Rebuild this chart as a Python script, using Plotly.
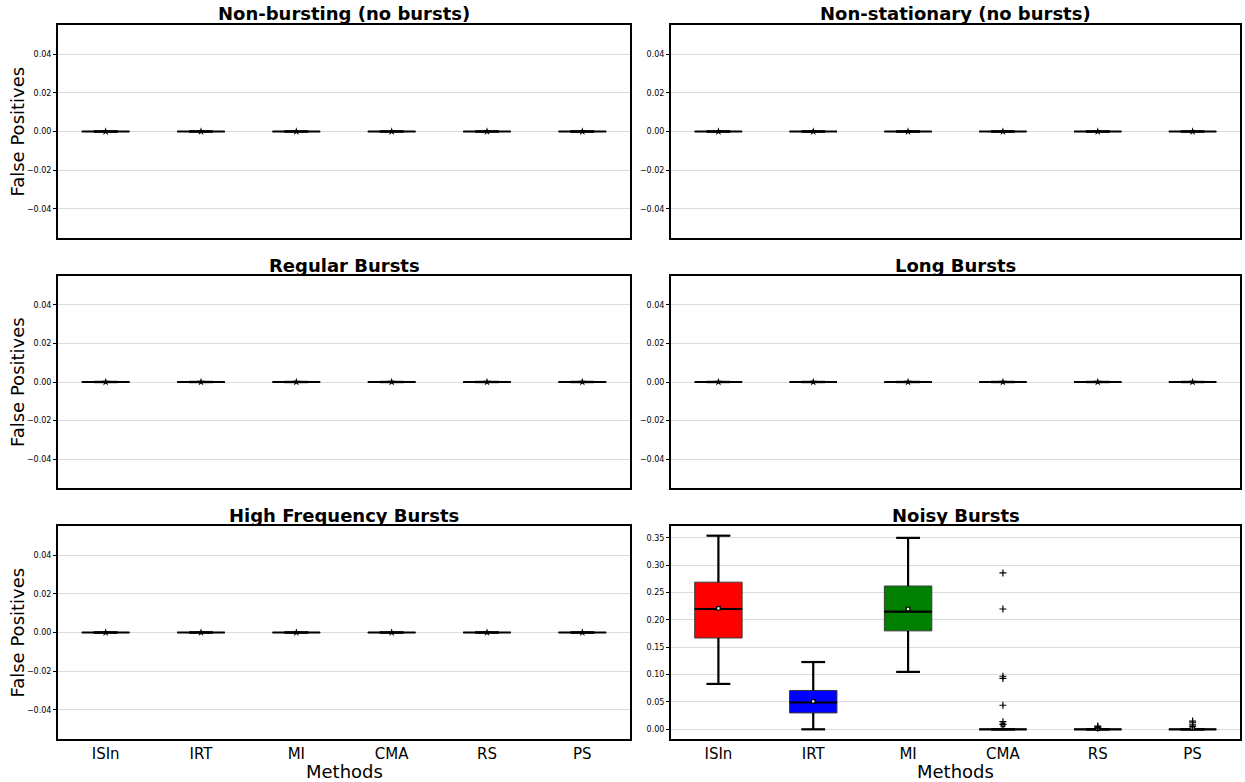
import plotly.graph_objects as go

# ---- data -----------------------------------------------------------------
methods = ["ISIn", "IRT", "MI", "CMA", "RS", "PS"]
positions = [1, 2, 3, 4, 5, 6]

panel_titles = [
    "Non-bursting (no bursts)",
    "Non-stationary (no bursts)",
    "Regular Bursts",
    "Long Bursts",
    "High Frequency Bursts",
    "Noisy Bursts",
]

# panels without any false positives: every statistic is zero
zero_stats = [0.0, 0.0, 0.0, 0.0, 0.0, 0.0]

# Noisy Bursts summary statistics per method
noisy_lower = [0.083, 0.000, 0.105, 0.0, 0.0, 0.0]
noisy_q1 = [0.167, 0.030, 0.180, 0.0, 0.0, 0.0]
noisy_median = [0.220, 0.049, 0.215, 0.0, 0.0, 0.0]
noisy_q3 = [0.269, 0.071, 0.262, 0.0, 0.0, 0.0]
noisy_upper = [0.354, 0.123, 0.350, 0.0, 0.0, 0.0]
noisy_mean = [0.221, 0.051, 0.220, 0.008, 0.001, 0.002]

# Noisy Bursts outliers
cma_outliers = [0.286, 0.220, 0.097, 0.093, 0.044, 0.014, 0.009]
rs_outliers = [0.006, 0.004, 0.002]
ps_outliers = [0.015, 0.012, 0.008, 0.005]

box_colors = ["red", "blue", "green", "orange", "purple", "cyan"]

# ---- layout geometry (pixels) ----------------------------------------------
W, H = 1245, 782
FONT = "DejaVu Sans"


def px_x(v):
    return v / W


def px_y(v):
    return 1 - v / H


col_x = [(58, 630), (671, 1240)]
row_y = [(25, 238), (276, 488), (526, 739)]

fig = go.Figure()
layout = dict(
    width=W,
    height=H,
    margin=dict(l=0, r=0, t=0, b=0),
    paper_bgcolor="white",
    plot_bgcolor="white",
    showlegend=False,
    font=dict(family=FONT, color="black"),
)
annotations = []

for k, title in enumerate(panel_titles):
    row, col = divmod(k, 2)
    noisy = title == "Noisy Bursts"
    x0, x1 = col_x[col]
    y0, y1 = row_y[row]
    idx = "" if k == 0 else str(k + 1)
    xa, ya = "x" + idx, "y" + idx

    if noisy:
        lower, q1, med, q3, upper, mean = (noisy_lower, noisy_q1, noisy_median,
                                           noisy_q3, noisy_upper, noisy_mean)
    else:
        lower = q1 = med = q3 = upper = mean = zero_stats

    # box bodies
    for i, m in enumerate(methods):
        fig.add_trace(go.Box(
            x=[positions[i]], q1=[q1[i]], median=[med[i]], q3=[q3[i]],
            lowerfence=[lower[i]], upperfence=[upper[i]],
            width=0.5, whiskerwidth=0.5, boxpoints=False,
            fillcolor=box_colors[i] if noisy else "white",
            line=dict(color="#3a3a3a", width=1),
            name=m, xaxis=xa, yaxis=ya, hoverinfo="skip",
        ))

    # whiskers, caps and medians drawn heavier on top of the boxes
    wx, wy = [], []
    for i in range(len(methods)):
        p = positions[i]
        wx += [p, p, None, p, p, None]
        wy += [q3[i], upper[i], None, q1[i], lower[i], None]
        wx += [p - 0.125, p + 0.125, None, p - 0.125, p + 0.125, None]
        wy += [upper[i], upper[i], None, lower[i], lower[i], None]
        wx += [p - 0.25, p + 0.25, None]
        wy += [med[i], med[i], None]
    fig.add_trace(go.Scatter(
        x=wx, y=wy, mode="lines", line=dict(color="black", width=2.2),
        xaxis=xa, yaxis=ya, hoverinfo="skip",
    ))

    # means and outliers
    if noisy:
        fig.add_trace(go.Scatter(
            x=positions, y=mean, mode="markers",
            marker=dict(symbol="square", size=3.5, color="white",
                        line=dict(color="black", width=1.2)),
            xaxis=xa, yaxis=ya, hoverinfo="skip",
        ))
        ox = [4] * len(cma_outliers) + [5] * len(rs_outliers) + [6] * len(ps_outliers)
        oy = cma_outliers + rs_outliers + ps_outliers
        fig.add_trace(go.Scatter(
            x=ox, y=oy, mode="markers",
            marker=dict(symbol="cross-thin", size=5,
                        line=dict(color="black", width=1.2)),
            xaxis=xa, yaxis=ya, hoverinfo="skip",
        ))
    else:
        fig.add_trace(go.Scatter(
            x=positions, y=mean, mode="markers",
            marker=dict(symbol="star", size=6, color="black"),
            xaxis=xa, yaxis=ya, hoverinfo="skip",
        ))

    # axes
    bottom = row == 2
    layout["xaxis" + idx] = dict(
        domain=[px_x(x0), px_x(x1)], anchor=ya, range=[0.5, 6.5],
        tickvals=positions, ticktext=methods, showticklabels=bottom,
        tickfont=dict(size=15, family=FONT), ticks="", showgrid=False,
        zeroline=False, showline=True, mirror=True, linecolor="black",
        linewidth=2,
    )
    if noisy:
        lo = min(noisy_lower)
        hi = max(noisy_upper)
        span = hi - lo
        yr = [lo - 0.05 * span, hi + 0.05 * span]
        tv = [0.0, 0.05, 0.10, 0.15, 0.20, 0.25, 0.30, 0.35]
        tt = ["%.2f" % v for v in tv]
    else:
        yr = [-0.055, 0.055]
        tv = [-0.04, -0.02, 0.0, 0.02, 0.04]
        tt = [("%.2f" % v).replace("-", "\u2212") for v in tv]
    layout["yaxis" + idx] = dict(
        domain=[px_y(y1), px_y(y0)], anchor=xa, range=yr,
        tickvals=tv, ticktext=tt, tickfont=dict(size=8, family=FONT),
        ticks="outside", ticklen=3, tickwidth=1, tickcolor="black",
        showgrid=True, gridcolor="#dcdcdc", gridwidth=1, zeroline=False,
        showline=True, mirror=True, linecolor="black", linewidth=2,
    )

    annotations.append(dict(
        text="<b>%s</b>" % title, x=px_x((x0 + x1) / 2), y=px_y(y0 - 11),
        xref="paper", yref="paper", xanchor="center", yanchor="middle",
        showarrow=False, font=dict(size=18, family=FONT, color="black"),
    ))

# shared axis labels
for y0, y1 in row_y:
    annotations.append(dict(
        text="False Positives", x=px_x(17), y=px_y((y0 + y1) / 2),
        xref="paper", yref="paper", xanchor="center", yanchor="middle",
        textangle=-90, showarrow=False,
        font=dict(size=18, family=FONT, color="black"),
    ))
for x0, x1 in col_x:
    annotations.append(dict(
        text="Methods", x=px_x((x0 + x1) / 2), y=px_y(771),
        xref="paper", yref="paper", xanchor="center", yanchor="middle",
        showarrow=False, font=dict(size=18, family=FONT, color="black"),
    ))

layout["annotations"] = annotations
fig.update_layout(**layout)
fig.write_html("out.html")
